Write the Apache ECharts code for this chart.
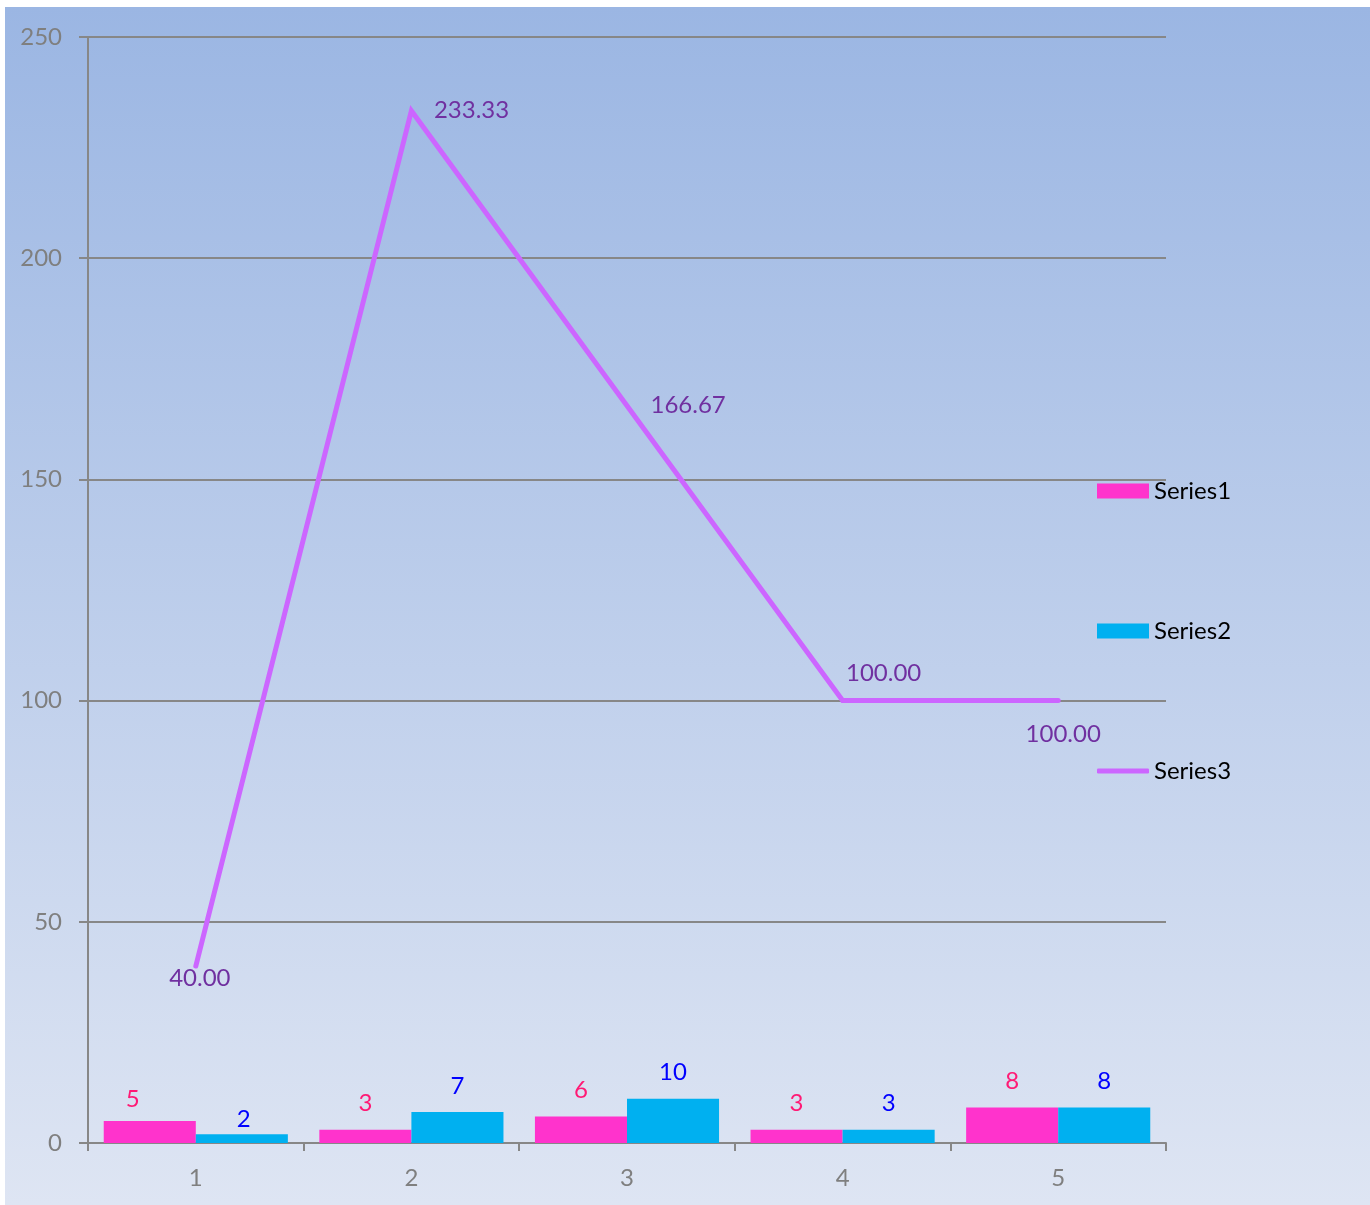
<!DOCTYPE html>
<html>
<head>
<meta charset="utf-8">
<script src="https://cdn.jsdelivr.net/npm/echarts@6/dist/echarts.min.js"></script>
<style>
  html, body { margin: 0; padding: 0; background: #ffffff; }
  #chart { width: 1370px; height: 1205px; }
</style>
</head>
<body>
<div id="chart"></div>
<script>
// Category labels along the x axis
const categories = ['1', '2', '3', '4', '5'];
// Bar series values
const series1 = [5, 3, 6, 3, 8];
const series2 = [2, 7, 10, 3, 8];
// Line series values
const series3 = [40.00, 233.33, 166.67, 100.00, 100.00];
// Y axis range
const yMin = 0, yMax = 250, yStep = 50;

const FONT = 'Lato';
const FS = 24;
const AXIS_GREY = '#878787';

// Per-point label placement for the line series
const lineLabelPlacement = [
  { position: 'bottom', distance: 0, offset: [4, 0] },
  { position: 'right', distance: 22, offset: [0, 0] },
  { position: 'right', distance: 23, offset: [0, 0] },
  { position: 'top', distance: 15, offset: [41, 0] },
  { position: 'bottom', distance: 21, offset: [5, 0] }
];
// Hand-placed bar labels (index -> label override)
const series1LabelTweaks = { 0: { distance: 10, offset: [-17, 0] } };
const series2LabelTweaks = { 0: { distance: 3, offset: [2, 0] } };

const chart = echarts.init(document.getElementById('chart'), null, { renderer: 'canvas' });

function legendItem(name, centerY, iconW, iconH, icon, color) {
  return {
    left: 1097, top: centerY - FS / 2, orient: 'vertical', padding: 0,
    itemWidth: iconW, itemHeight: iconH, itemGap: 5,
    selectedMode: false,
    textStyle: { fontFamily: FONT, fontSize: FS, color: '#000000' },
    data: [{ name: name, icon: icon, itemStyle: { color: color, opacity: 1 } }]
  };
}

function barData(values, tweaks) {
  return values.map((v, i) => tweaks[i] ? { value: v, label: tweaks[i] } : v);
}

chart.setOption({
  animation: false,
  graphic: [{
    type: 'rect', z: -10, silent: true,
    shape: { x: 5, y: 7, width: 1365, height: 1198 },
    style: {
      fill: new echarts.graphic.LinearGradient(0, 0, 0, 1, [
        { offset: 0, color: '#9bb6e3' },
        { offset: 1, color: '#dee5f3' }
      ])
    }
  }],
  grid: { left: 88, right: 204, top: 37, bottom: 62, containLabel: false },
  legend: [
    legendItem('Series1', 491, 52, 15, 'rect', '#ff33cc'),
    legendItem('Series2', 631, 52, 15, 'rect', '#00b0f0'),
    legendItem('Series3', 771, 52, 5, 'roundRect', '#cc66ff')
  ],
  xAxis: {
    type: 'category',
    data: categories,
    axisLine: { lineStyle: { color: AXIS_GREY, width: 2 } },
    axisTick: { show: true, length: 8, alignWithLabel: false, lineStyle: { color: AXIS_GREY, width: 2 } },
    axisLabel: { fontFamily: FONT, fontSize: FS, color: '#7f7f7f', margin: 23 },
    splitLine: { show: false }
  },
  yAxis: {
    type: 'value',
    min: yMin, max: yMax, interval: yStep,
    axisLine: { show: true, lineStyle: { color: AXIS_GREY, width: 2 } },
    axisTick: { show: true, length: 9, lineStyle: { color: AXIS_GREY, width: 2 } },
    axisLabel: { fontFamily: FONT, fontSize: FS, color: '#7f7f7f', margin: 26 },
    splitLine: { show: true, lineStyle: { color: AXIS_GREY, width: 2 } }
  },
  series: [
    {
      name: 'Series1', type: 'bar', data: barData(series1, series1LabelTweaks),
      barGap: '0%', barCategoryGap: '14.6%',
      itemStyle: { color: '#ff33cc' },
      label: { show: true, position: 'top', distance: 14, fontFamily: FONT, fontSize: FS, color: '#ff1a75' }
    },
    {
      name: 'Series2', type: 'bar', data: barData(series2, series2LabelTweaks),
      barGap: '0%', barCategoryGap: '14.6%',
      itemStyle: { color: '#00b0f0' },
      label: { show: true, position: 'top', distance: 14, fontFamily: FONT, fontSize: FS, color: '#0000ff' }
    },
    {
      name: 'Series3', type: 'line',
      data: series3.map((v, i) => ({
        value: v,
        label: lineLabelPlacement[i]
      })),
      symbol: 'circle', symbolSize: 1, showSymbol: true,
      itemStyle: { color: 'rgba(204,102,255,0)' },
      lineStyle: { color: '#cc66ff', width: 5, cap: 'round', join: 'miter' },
      label: {
        show: true, fontFamily: FONT, fontSize: FS, color: '#7030a0',
        formatter: p => p.value.toFixed(2)
      },
      z: 5
    }
  ]
});
</script>
</body>
</html>
